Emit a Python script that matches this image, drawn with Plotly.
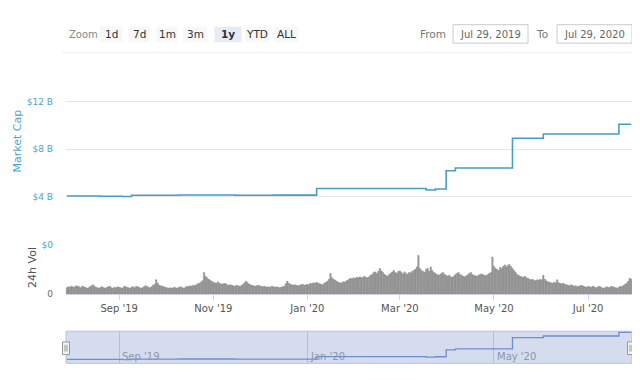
import pandas as pd
import plotly.graph_objects as go

# ---------------- data ----------------
range_start = "2019-07-29"
range_end = "2020-07-29"

# market cap (billions USD) change points, drawn as a step line
mcap_dates = ["2019-07-29", "2019-08-20", "2019-09-03", "2019-09-09", "2019-10-10",
              "2019-11-15", "2019-12-10", "2020-01-07", "2020-02-10", "2020-03-18",
              "2020-03-24", "2020-03-31", "2020-04-06", "2020-05-13", "2020-06-02",
              "2020-07-21", "2020-07-29"]
mcap_values = [4.08, 4.06, 4.03, 4.14, 4.16,
               4.14, 4.15, 4.71, 4.70, 4.58,
               4.66, 6.20, 6.42, 8.92, 9.28,
               10.10, 10.10]

# 24h volume (relative units, axis top = 100)
vol_jul2019 = [13, 15, 14]
vol_aug2019 = [16, 15, 14, 17, 16, 15, 13, 16, 15, 14, 12, 13, 15, 17, 19, 16, 14, 13, 12, 14,
               15, 13, 12, 14, 15, 16, 13, 12, 14, 13, 15]
vol_sep2019 = [14, 13, 12, 15, 16, 14, 13, 12, 14, 15, 13, 16, 15, 14, 12, 13, 15, 17, 16, 14,
               13, 15, 18, 20, 29, 22, 18, 17, 16, 15]
vol_oct2019 = [14, 13, 12, 13, 12, 13, 14, 12, 13, 14, 15, 13, 12, 14, 16, 15, 17, 16, 18, 17,
               19, 21, 22, 24, 27, 44, 36, 33, 30, 28, 26]
vol_nov2019 = [24, 23, 22, 25, 22, 21, 20, 22, 21, 19, 18, 19, 18, 17, 16, 18, 17, 16, 17, 19,
               22, 26, 24, 21, 19, 18, 17, 16, 17, 18]
vol_dec2019 = [17, 16, 15, 16, 15, 14, 15, 14, 16, 15, 14, 15, 14, 13, 14, 15, 16, 21, 26, 22,
               20, 19, 18, 19, 18, 17, 18, 19, 20, 18, 19]
vol_jan2020 = [20, 19, 22, 21, 23, 22, 24, 22, 21, 20, 19, 22, 24, 26, 30, 42, 33, 30, 28, 26,
               24, 23, 22, 25, 24, 26, 28, 30, 32, 31, 33]
vol_feb2020 = [32, 34, 33, 35, 33, 34, 36, 34, 33, 35, 38, 40, 44, 45, 42, 46, 52, 47, 44, 40,
               38, 36, 40, 42, 45, 48, 44, 42, 46]
vol_mar2020 = [47, 44, 41, 45, 42, 40, 44, 43, 46, 48, 50, 55, 78, 52, 48, 46, 44, 50, 52, 46,
               55, 48, 44, 42, 40, 38, 40, 42, 44, 40, 38]
vol_apr2020 = [36, 38, 35, 34, 36, 40, 42, 44, 40, 38, 36, 35, 37, 39, 42, 44, 40, 38, 37, 36,
               38, 40, 41, 39, 38, 37, 40, 42, 44, 75]
vol_may2020 = [56, 52, 50, 48, 54, 52, 56, 59, 55, 58, 60, 56, 52, 48, 44, 40, 38, 36, 35, 34,
               36, 33, 32, 30, 29, 30, 28, 27, 29, 28, 30]
vol_jun2020 = [29, 38, 30, 27, 25, 24, 23, 22, 24, 23, 29, 23, 22, 21, 22, 20, 19, 18, 17, 19,
               18, 16, 17, 15, 16, 17, 18, 16, 15, 14]
vol_jul2020 = [16, 15, 14, 16, 15, 13, 14, 16, 15, 13, 12, 13, 15, 14, 13, 16, 15, 14, 13, 12,
               14, 16, 15, 18, 20, 22, 26, 32, 30]

mcap_tick_vals = [4, 8, 12]
mcap_tick_text = ["$4 B", "$8 B", "$12 B"]
vol_tick_vals = [0, 100]
vol_tick_text = ["0", "$0"]
nav_tick_vals = ["2019-09-01", "2020-01-01", "2020-05-01"]
nav_tick_text = ["Sep '19", "Jan '20", "May '20"]
zoom_buttons = ["1d", "7d", "1m", "3m", "1y", "YTD", "ALL"]
from_text = "Jul 29, 2019"
to_text = "Jul 29, 2020"

# ---------------- build ----------------
volumes = (vol_jul2019 + vol_aug2019 + vol_sep2019 + vol_oct2019 + vol_nov2019 + vol_dec2019 +
           vol_jan2020 + vol_feb2020 + vol_mar2020 + vol_apr2020 + vol_may2020 + vol_jun2020 +
           vol_jul2020)
vol_dates = pd.date_range(range_start, range_end, freq="D")

OFF = 8  # page body margin
W, H = 640 - OFF, 380 - OFF
def px(x):
    return (x - OFF) / W
def py(y):
    return 1 - (y - OFF) / H

TEAL = "#4ea3cc"
LINE = "#4a9bc4"
GRID = "#e6e6e6"
FONT = "DejaVu Sans"

fig = go.Figure()

fig.add_trace(go.Scatter(x=mcap_dates, y=mcap_values, mode="lines",
                         line=dict(color=LINE, width=1.6, shape="hv"),
                         xaxis="x", yaxis="y", showlegend=False, hoverinfo="skip"))
fig.add_trace(go.Bar(x=vol_dates, y=volumes, marker=dict(color="#a2a2a2",
                     line=dict(color="#707070", width=0.4)),
                     xaxis="x2", yaxis="y2", showlegend=False, hoverinfo="skip"))
fig.add_trace(go.Scatter(x=mcap_dates, y=mcap_values, mode="lines",
                         line=dict(color="#6a8fd0", width=1.3, shape="hv"),
                         xaxis="x3", yaxis="y3", showlegend=False, hoverinfo="skip"))

xdom = [px(66), px(632)]
xr = [pd.Timestamp(range_start) - pd.Timedelta(hours=12), pd.Timestamp(range_end) + pd.Timedelta(hours=12)]

fig.update_layout(
    width=W, height=H, autosize=False,
    margin=dict(l=0, r=0, t=0, b=0),
    paper_bgcolor="white", plot_bgcolor="rgba(0,0,0,0)",
    font=dict(family=FONT, size=10, color="#666"),
    bargap=0.12,
    xaxis=dict(domain=xdom, range=xr, anchor="y", showticklabels=False, showgrid=False,
               zeroline=False, showline=False, matches="x2"),
    yaxis=dict(domain=[py(215), py(75)], range=[2.53, 13.96], tickvals=mcap_tick_vals,
               ticktext=mcap_tick_text, tickfont=dict(color=TEAL, size=9, family=FONT),
               showgrid=True, gridcolor=GRID, gridwidth=1, zeroline=False,
               ticks="", ticklabelstandoff=12),
    xaxis2=dict(domain=xdom, range=xr, anchor="y2", showgrid=False, zeroline=False,
                tick0="2019-09-01", dtick="M2", tickformat="%b '%y",
                ticks="outside", ticklen=5, tickcolor="#ccd6eb",
                showline=True, linecolor="#ccd6eb", linewidth=1,
                tickfont=dict(size=10, color="#555", family=FONT)),
    yaxis2=dict(domain=[py(297), py(246)], range=[0, 100], tickvals=vol_tick_vals,
                ticktext=["0", "<span style='color:%s'>$0</span>" % TEAL],
                tickfont=dict(size=9, color="#666", family=FONT),
                showgrid=True, gridcolor=GRID, zeroline=False, ticks="", ticklabelstandoff=12),
    xaxis3=dict(domain=xdom, range=xr, anchor="y3", tickvals=nav_tick_vals,
                showticklabels=False, showgrid=True, gridcolor="#b5bfd4", gridwidth=1,
                zeroline=False, showline=False, ticks=""),
    yaxis3=dict(domain=[py(368), py(335)], range=[3.2, 10.35], visible=False),
)

shapes = []
# navigator background / mask
shapes.append(dict(type="rect", xref="paper", yref="paper", x0=px(66), x1=px(632),
                   y0=py(368), y1=py(335), fillcolor="#d4dcee", line=dict(color="#b6c2dc", width=1),
                   layer="below"))
# navigator handles
for hx in (66, 631):
    shapes.append(dict(type="rect", xref="paper", yref="paper", x0=px(hx - 3.5), x1=px(hx + 3.5),
                       y0=py(359), y1=py(346), fillcolor="#f2f2f2", line=dict(color="#999", width=1)))
    for dx in (-1, 1):
        shapes.append(dict(type="line", xref="paper", yref="paper", x0=px(hx + dx), x1=px(hx + dx),
                           y0=py(356), y1=py(349), line=dict(color="#999", width=1)))
# separator under range selector
shapes.append(dict(type="line", xref="paper", yref="paper", x0=px(62), x1=px(634),
                   y0=py(48.5), y1=py(48.5), line=dict(color="#eeeeee", width=1)))

annotations = []
# navigator labels
for tv, tt in zip(nav_tick_vals, nav_tick_text):
    annotations.append(dict(text=tt, x=tv, xref="x3", y=py(361), yref="paper",
                            xanchor="left", yanchor="middle", xshift=1, showarrow=False,
                            font=dict(size=10, color="#8c96a8", family=FONT)))
annotations.append(dict(text="Zoom", x=px(67), y=py(30), xref="paper", yref="paper",
                        xanchor="left", yanchor="middle", showarrow=False,
                        font=dict(size=10, color="#888", family=FONT)))
btn_centers = [111, 139, 167, 195, 228, 257, 286]
btn_widths = [22, 22, 21, 24, 27, 23, 25]
for label, cx, bw in zip(zoom_buttons, btn_centers, btn_widths):
    sel = label == "1y"
    shapes.append(dict(type="rect", xref="paper", yref="paper", x0=px(cx - bw / 2), x1=px(cx + bw / 2),
                       y0=py(38), y1=py(22), fillcolor="#e6ebf5" if sel else "#f7f7f7",
                       line=dict(width=0)))
    annotations.append(dict(text=("<b>%s</b>" % label) if sel else label, x=px(cx), y=py(30),
                            xref="paper", yref="paper", xanchor="center", yanchor="middle",
                            showarrow=False, font=dict(size=10.5, color="#333", family=FONT)))
annotations.append(dict(text="From", x=px(448), y=py(30), xref="paper", yref="paper",
                        xanchor="right", yanchor="middle", showarrow=False,
                        font=dict(size=10.5, color="#777", family=FONT)))
annotations.append(dict(text="To", x=px(550), y=py(30), xref="paper", yref="paper",
                        xanchor="right", yanchor="middle", showarrow=False,
                        font=dict(size=10.5, color="#777", family=FONT)))
for x0, x1, t in ((453, 528, from_text), (557, 632, to_text)):
    shapes.append(dict(type="rect", xref="paper", yref="paper", x0=px(x0), x1=px(x1),
                       y0=py(39), y1=py(20), fillcolor="white", line=dict(color="#cccccc", width=1)))
    annotations.append(dict(text=t, x=px((x0 + x1) / 2), y=py(30), xref="paper", yref="paper",
                            xanchor="center", yanchor="middle", showarrow=False,
                            font=dict(size=10, color="#666", family=FONT)))
annotations.append(dict(text="Market Cap", x=px(17), y=py(140), xref="paper", yref="paper",
                        xanchor="center", yanchor="middle", textangle=-90, showarrow=False,
                        font=dict(size=11, color=TEAL, family=FONT)))
annotations.append(dict(text="24h Vol", x=px(33), y=py(270), xref="paper", yref="paper",
                        xanchor="center", yanchor="middle", textangle=-90, showarrow=False,
                        font=dict(size=11, color="#555", family=FONT)))

fig.update_layout(shapes=shapes, annotations=annotations)

fig.write_html("out.html")
